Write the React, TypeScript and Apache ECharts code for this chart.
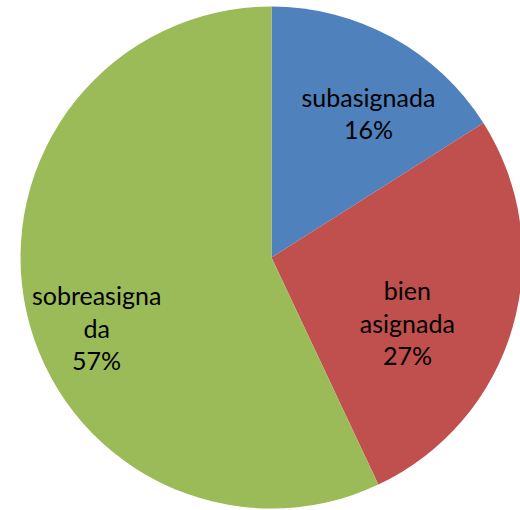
import React, { useEffect, useRef } from "react";
import * as echarts from "echarts";

const categories = ["subasignada", "bien asignada", "sobreasignada"];
const labelLines = ["subasignada", "bien\nasignada", "sobreasigna\nda"];
const values = [16, 27, 57];
const colors = ["#4F81BD", "#C0504D", "#9BBB59"];
const labelOffsets: [number, number][] = [
  [35, -32],
  [12.5, 29.5],
  [-49.5, 42],
];

export default function App() {
  const ref = useRef<HTMLDivElement>(null);
  useEffect(() => {
    if (!ref.current) return;
    const chart = echarts.init(ref.current, undefined, { renderer: "svg" });
    chart.setOption({
      animation: false,
      backgroundColor: "#ffffff",
      series: [
        {
          type: "pie",
          center: [271.5, 257.5],
          radius: 251,
          startAngle: 90,
          clockwise: true,
          silent: true,
          itemStyle: { borderWidth: 0 },
          label: {
            show: true,
            position: "inside",
            fontFamily: "Lato",
            fontSize: 25,
            lineHeight: 32.5,
            color: "#000000",
            align: "center",
          },
          labelLine: { show: false },
          data: categories.map((name, i) => ({
            name,
            value: values[i],
            itemStyle: { color: colors[i] },
            label: {
              offset: labelOffsets[i],
              formatter: () => `${labelLines[i]}\n${values[i]}%`,
            },
          })),
        },
      ],
    });
    return () => chart.dispose();
  }, []);
  return (
    <div
      ref={ref}
      style={{ position: "absolute", left: 0, top: 0, width: 520, height: 510 }}
    />
  );
}
